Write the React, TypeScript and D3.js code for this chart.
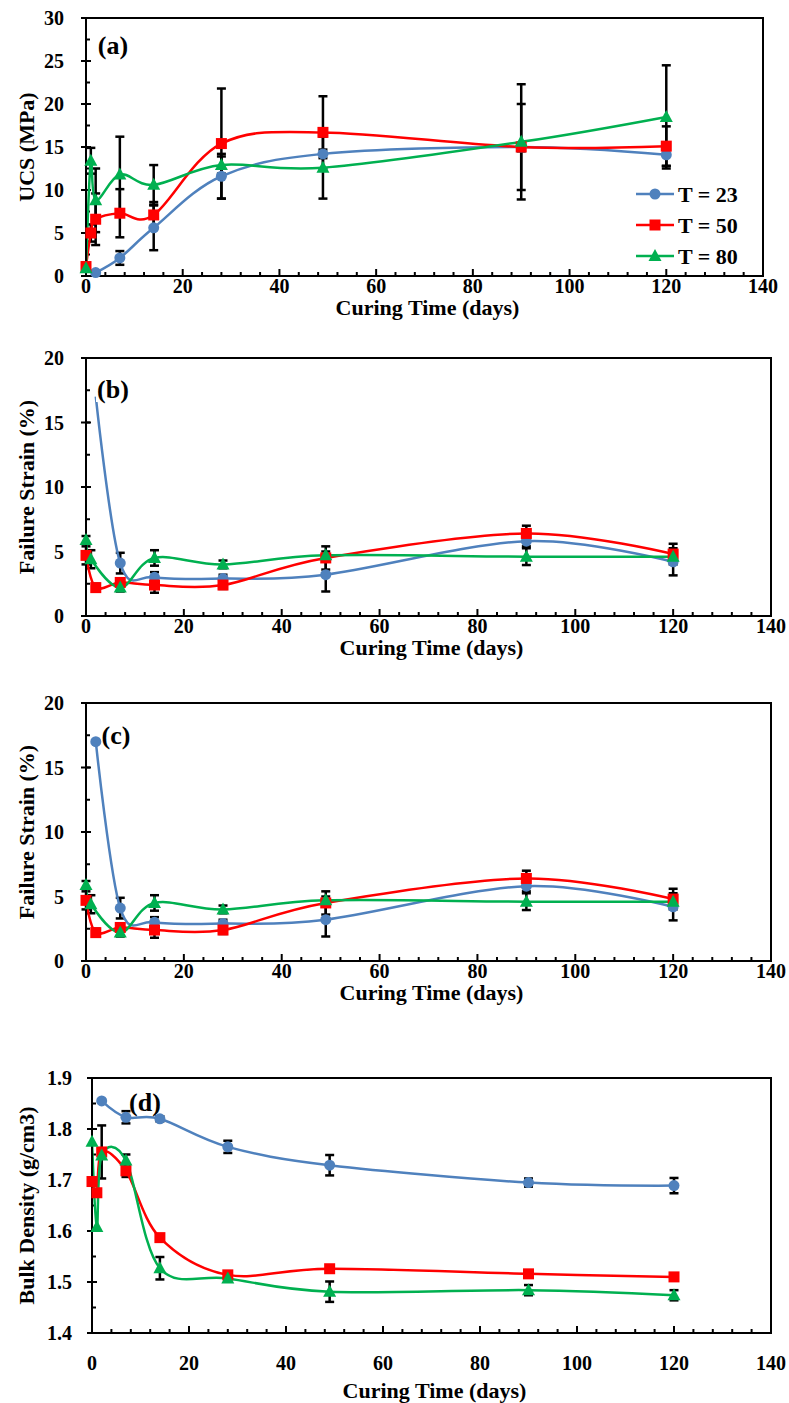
import React from 'react';
import * as d3 from 'd3';

const BLUE = '#4F81BD';
const RED = '#FF0000';
const GREEN = '#00B050';
const FONT = '"Liberation Serif", "Times New Roman", serif';

const seriesNames = ['T = 23', 'T = 50', 'T = 80'];
const xTicks = [0, 20, 40, 60, 80, 100, 120, 140];

// ---- Panel (a): UCS (MPa)
const ucsDays23 = [2, 7, 14, 28, 49, 90, 120];
const ucs23 = [0.4, 2.1, 5.6, 11.6, 14.2, 15.0, 14.1];
const ucsErr23 = [0.2, 0.8, 2.6, 2.6, 0.5, 0.5, 1.3];
const ucsDays50 = [0, 1, 2, 7, 14, 28, 49, 90, 120];
const ucs50 = [1.1, 5.0, 6.6, 7.3, 7.1, 15.4, 16.7, 15.0, 15.1];
const ucsErr50 = [0.2, 1.0, 3.0, 2.8, 1.5, 6.4, 4.2, 5.0, 2.3];
const ucsDays80 = [0, 1, 2, 7, 14, 28, 49, 90, 120];
const ucs80 = [0.9, 13.4, 8.8, 11.8, 10.6, 12.9, 12.6, 15.6, 18.5];
const ucsErr80 = [0.1, 1.5, 3.7, 4.4, 2.3, 1.0, 3.6, 6.7, 6.0];

// ---- Panels (b) and (c): Failure Strain (%)
const fsDays23 = [2, 7, 14, 28, 49, 90, 120];
const fs23 = [17.0, 4.1, 3.0, 2.9, 3.2, 5.8, 4.2];
const fsErr23 = [0, 0.8, 0.4, 0.3, 1.3, 0.4, 1.05];
const fsDays50 = [0, 2, 7, 14, 28, 49, 90, 120];
const fs50 = [4.7, 2.2, 2.6, 2.4, 2.4, 4.5, 6.4, 4.8];
const fsErr50 = [0.7, 0.3, 0.3, 0.6, 0.3, 0.9, 0.6, 0.8];
const fsDays80 = [0, 1, 7, 14, 28, 49, 90, 120];
const fs80 = [5.9, 4.4, 2.2, 4.5, 4.0, 4.7, 4.6, 4.6];
const fsErr80 = [0.3, 0.7, 0.3, 0.6, 0.3, 0.3, 0.65, 0.3];

// ---- Panel (d): Bulk Density (g/cm3)
const bdDays23 = [2, 7, 14, 28, 49, 90, 120];
const bd23 = [1.855, 1.823, 1.82, 1.765, 1.729, 1.695, 1.689];
const bdErr23 = [0, 0.012, 0.005, 0.012, 0.02, 0.008, 0.015];
const bdDays50 = [0, 1, 2, 7, 14, 28, 49, 90, 120];
const bd50 = [1.697, 1.675, 1.755, 1.718, 1.587, 1.514, 1.526, 1.516, 1.51];
const bdErr50 = [0, 0, 0.052, 0.012, 0.005, 0.005, 0.005, 0.005, 0.005];
const bdDays80 = [0, 1, 2, 7, 14, 28, 49, 90, 120];
const bd80 = [1.775, 1.608, 1.748, 1.738, 1.527, 1.507, 1.481, 1.484, 1.474];
const bdErr80 = [0, 0, 0, 0.012, 0.022, 0.005, 0.02, 0.01, 0.01];

type Series = { name: string; color: string; shape: string; days: number[]; vals: number[]; errs: number[]; hideFirst?: boolean };

function mk(days: number[], vals: number[], errs: number[], idx: number, hideFirst = false): Series {
  const colors = [BLUE, RED, GREEN];
  const shapes = ['circle', 'square', 'triangle'];
  return { name: seriesNames[idx], color: colors[idx], shape: shapes[idx], days, vals, errs, hideFirst };
}

function Marker({ shape, cx, cy, color }: { shape: string; cx: number; cy: number; color: string }) {
  if (shape === 'circle') return <circle cx={cx} cy={cy} r={5.5} fill={color} />;
  if (shape === 'square') return <rect x={cx - 5.5} y={cy - 5.5} width={11} height={11} fill={color} />;
  return <path d={`M${cx},${cy - 7}L${cx + 6.5},${cy + 5}L${cx - 6.5},${cy + 5}Z`} fill={color} />;
}

type PanelProps = {
  id: string;
  box: { left: number; top: number; right: number; bottom: number };
  yDomain: [number, number];
  yMajor: number;
  yMinor: number;
  yDigits: number;
  series: Series[];
  label: string;
  labelPos: [number, number];
  labelBg?: boolean;
  yTitle: string;
  yLabelGap: number;
  xLabelDy: number;
  xTitleDy: number;
  legend?: boolean;
};

function Panel(p: PanelProps) {
  const { box } = p;
  const x = d3.scaleLinear().domain([0, 140]).range([box.left, box.right]);
  const y = d3.scaleLinear().domain(p.yDomain).range([box.bottom, box.top]);
  const nMaj = Math.round((p.yDomain[1] - p.yDomain[0]) / p.yMajor);
  const yMaj = d3.range(nMaj + 1).map((i) => p.yDomain[0] + i * p.yMajor);
  const nMin = Math.round((p.yDomain[1] - p.yDomain[0]) / p.yMinor);
  const yMin = d3.range(nMin + 1).map((i) => p.yDomain[0] + i * p.yMinor);
  const xMin = d3.range(0, 141, 4);
  const line = d3
    .line<[number, number]>()
    .x((d) => x(d[0]))
    .y((d) => y(d[1]))
    .curve(d3.curveCardinal.tension(0));
  const cx = (box.left + box.right) / 2;
  const cy = (box.top + box.bottom) / 2;
  return (
    <g>
      <defs>
        <clipPath id={`clip-${p.id}`}>
          <rect x={box.left} y={box.top} width={box.right - box.left} height={box.bottom - box.top} />
        </clipPath>
      </defs>
      {yMin.map((v, i) => (
        <line key={`ym${i}`} x1={box.left} x2={box.left + 4} y1={y(v)} y2={y(v)} stroke="#000" strokeWidth={2} />
      ))}
      {yMaj.map((v, i) => (
        <line key={`yM${i}`} x1={box.left - 5} x2={box.left + 5} y1={y(v)} y2={y(v)} stroke="#000" strokeWidth={2} />
      ))}
      {xMin.map((v, i) => (
        <line key={`xm${i}`} x1={x(v)} x2={x(v)} y1={box.bottom} y2={box.bottom - (v % 20 === 0 ? 7 : 4)} stroke="#000" strokeWidth={2} />
      ))}
      {yMaj.map((v, i) => (
        <text key={`yl${i}`} x={box.left - p.yLabelGap} y={y(v)} dy="0.35em" textAnchor="end" fontFamily={FONT} fontWeight="bold" fontSize={20}>
          {v.toFixed(p.yDigits)}
        </text>
      ))}
      {xTicks.map((v, i) => (
        <text key={`xl${i}`} x={x(v)} y={box.bottom + p.xLabelDy} dy="0.35em" textAnchor="middle" fontFamily={FONT} fontWeight="bold" fontSize={20}>
          {v}
        </text>
      ))}
      <text x={cx + 3} y={box.bottom + p.xTitleDy} dy="0.35em" textAnchor="middle" fontFamily={FONT} fontWeight="bold" fontSize={22}>
        Curing Time (days)
      </text>
      <text transform={`translate(26,${cy}) rotate(-90)`} dy="0.35em" textAnchor="middle" fontFamily={FONT} fontWeight="bold" fontSize={22}>
        {p.yTitle}
      </text>
      {p.series.map((s, si) =>
        s.days.map((d, i) => {
          const e = s.errs[i];
          if (!e) return null;
          const xx = x(d);
          const y1 = y(s.vals[i] + e);
          const y2 = y(s.vals[i] - e);
          return (
            <g key={`e${si}-${i}`} stroke="#000" strokeWidth={2.5}>
              <line x1={xx} x2={xx} y1={y1} y2={y2} />
              <line x1={xx - 4.5} x2={xx + 4.5} y1={y1} y2={y1} />
              <line x1={xx - 4.5} x2={xx + 4.5} y1={y2} y2={y2} />
            </g>
          );
        })
      )}
      <g clipPath={`url(#clip-${p.id})`}>
        {p.series.map((s, si) => (
          <path
            key={`l${si}`}
            d={line(s.days.map((d, i) => [d, s.vals[i]] as [number, number])) || ''}
            fill="none"
            stroke={s.color}
            strokeWidth={2.5}
          />
        ))}
      </g>
      <rect x={box.left} y={box.top} width={box.right - box.left} height={box.bottom - box.top} fill="none" stroke="#000" strokeWidth={2} />
      {p.series.map((s, si) =>
        s.days.map((d, i) =>
          s.hideFirst && i === 0 ? null : <Marker key={`m${si}-${i}`} shape={s.shape} cx={x(d)} cy={y(s.vals[i])} color={s.color} />
        )
      )}
      {p.labelBg && <rect x={p.labelPos[0] - 17} y={p.labelPos[1] - 14} width={37} height={27} fill="#fff" />}
      <text x={p.labelPos[0]} y={p.labelPos[1]} dy="0.35em" textAnchor="middle" fontFamily={FONT} fontWeight="bold" fontSize={26}>
        {p.label}
      </text>
      {p.legend &&
        p.series.map((s, i) => {
          const ly = 194 + i * 31;
          return (
            <g key={`lg${i}`}>
              <line x1={636} x2={674} y1={ly} y2={ly} stroke={s.color} strokeWidth={2.5} />
              <Marker shape={s.shape} cx={655} cy={ly} color={s.color} />
              <text x={678} y={ly} dy="0.35em" fontFamily={FONT} fontWeight="bold" fontSize={22}>
                {s.name}
              </text>
            </g>
          );
        })}
    </g>
  );
}

export default function App() {
  const ucsSeries = [mk(ucsDays23, ucs23, ucsErr23, 0), mk(ucsDays50, ucs50, ucsErr50, 1), mk(ucsDays80, ucs80, ucsErr80, 2)];
  const fsSeriesB = [mk(fsDays23, fs23, fsErr23, 0, true), mk(fsDays50, fs50, fsErr50, 1), mk(fsDays80, fs80, fsErr80, 2)];
  const fsSeriesC = [mk(fsDays23, fs23, fsErr23, 0), mk(fsDays50, fs50, fsErr50, 1), mk(fsDays80, fs80, fsErr80, 2)];
  const bdSeries = [mk(bdDays23, bd23, bdErr23, 0), mk(bdDays50, bd50, bdErr50, 1), mk(bdDays80, bd80, bdErr80, 2)];
  return (
    <svg width={789} height={1403} style={{ position: 'absolute', left: 0, top: 0, background: '#fff' }}>
      <rect width={789} height={1403} fill="#fff" />
      <Panel
        id="a"
        box={{ left: 86, top: 18, right: 763, bottom: 276 }}
        yDomain={[0, 30]}
        yMajor={5}
        yMinor={2.5}
        yDigits={0}
        series={ucsSeries}
        label="(a)"
        labelPos={[113, 45]}
        yTitle="UCS (MPa)"
        yLabelGap={22}
        xLabelDy={10}
        xTitleDy={31}
        legend
      />
      <Panel
        id="b"
        box={{ left: 86, top: 358, right: 771, bottom: 616 }}
        yDomain={[0, 20]}
        yMajor={5}
        yMinor={2.5}
        yDigits={0}
        series={fsSeriesB}
        label="(b)"
        labelPos={[113, 389]}
        labelBg
        yTitle="Failure Strain (%)"
        yLabelGap={22}
        xLabelDy={10}
        xTitleDy={31}
      />
      <Panel
        id="c"
        box={{ left: 86, top: 703, right: 771, bottom: 961 }}
        yDomain={[0, 20]}
        yMajor={5}
        yMinor={2.5}
        yDigits={0}
        series={fsSeriesC}
        label="(c)"
        labelPos={[116, 735]}
        yTitle="Failure Strain (%)"
        yLabelGap={22}
        xLabelDy={10}
        xTitleDy={31}
      />
      <Panel
        id="d"
        box={{ left: 92, top: 1078, right: 771, bottom: 1333 }}
        yDomain={[1.4, 1.9]}
        yMajor={0.1}
        yMinor={0.05}
        yDigits={1}
        series={bdSeries}
        label="(d)"
        labelPos={[145, 1102]}
        yTitle="Bulk Density (g/cm3)"
        yLabelGap={20}
        xLabelDy={30}
        xTitleDy={57}
      />
    </svg>
  );
}
